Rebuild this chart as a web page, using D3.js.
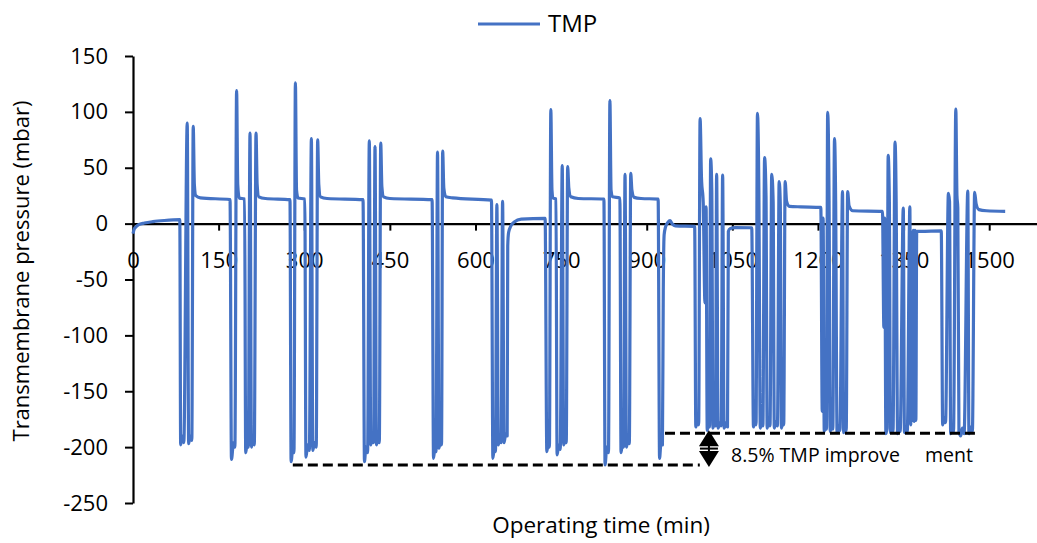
<!DOCTYPE html>
<html>
<head>
<meta charset="utf-8">
<script src="https://cdn.jsdelivr.net/npm/d3@7"></script>
<style>
  body { margin: 0; background: #fff; }
  svg { display: block; font-family: "Open Sans", "Noto Sans", sans-serif; }
</style>
</head>
<body>
<div id="chart"></div>
<script>
// TMP trace: [operating time (min), TMP (mbar)]
const tmpPoints = [
  [0,-9],[2,-5],[5,-3],[10,-1],[20,0.5],[35,1.8],[55,2.8],[82,3.5],
  [83.5,-198],[86,-190],[89,-196],[95,90],[97.5,-197],[100,-190],[103,-194],[105.5,87],[107.5,35],[110,25],[118,23],[170,21.5],
  [172.5,-211],[176,-196],[178.5,-200],[181.5,119],[183.5,35],[186,23],[195.5,22],[197.5,-205],[200,-196],[202,-200],[205,81],[207.5,-200],[210,-193],[212.5,-198],[215.5,81],[217.5,35],[220.5,24],[232,22.5],[275,21.5],
  [277,-213],[280,-200],[282,-205],[284.5,126],[286.5,30],[289,23],[301,22],[303,-209],[306,-198],[309,-203],[312.5,76],[315,-203],[318,-196],[321,-200],[323.5,75],[325.5,35],[328.5,24],[340,22.5],[403,21.5],
  [405.5,-213],[408,-200],[411,-205],[414,74],[416.5,-198],[419,-192],[421.5,-196],[424,69],[426.5,-198],[429,-192],[431.5,-196],[434,72],[436,33],[439,24],[450,22.5],[524,21.5],
  [526.5,-210],[529,-200],[531,-204],[533.5,64],[536,-201],[538.5,-194],[540.5,-198],[542.5,65],[544.5,32],[548,24],[560,23],[628,21],
  [630.5,-210],[633,-200],[635,-204],[637.5,17],[640,-198],[642.5,-192],[645,-196],[647.5,20],[650,-196],[653,-188],[655.5,-190],[656.5,-20],[658,-8],[662,-2],[668,1.5],[680,4],[722,4.7],
  [725,-204],[727.5,-196],[729.5,-200],[732,102],[734,30],[736,23],[741,22],[743,-207],[746,-198],[748.5,-202],[752,52],[754.5,-198],[757,-192],[759,-196],[761.5,51],[763.5,32],[767,24],[780,22.5],[825,22],
  [827,-216],[830,-200],[833,-205],[835.5,110],[837.5,30],[840,24],[853,23],[855,-205],[857.5,-196],[859.5,-200],[862,44],[864.5,-200],[867,-193],[869.5,-197],[872,45],[874,30],[878,23.5],[890,22.5],[920,22],
  [922.5,-210],[925,-196],[927.5,-198],[929,-60],[930.5,-10],[933,-3],[937,1],[941,2.6],[945,-0.5],[950,-2],[984,-2.5],
  [986,-182],[989,-176],[991,-180],[993.5,94],[996,40],[999,19],[1002,-71],[1004,15],[1006,-185],[1008.5,-178],[1010,-182],[1012,58],[1014,30],[1016,-183],[1018.5,-178],[1020.5,-181],[1022.5,44],[1025,-183],[1028,-178],[1030.5,-181],[1033,43.5],[1035.5,-183],[1039,-178],[1041.5,-182],[1043,-7],[1046,-4.5],[1055,-3.5],[1084,-3.7],
  [1087,-182],[1089.5,-176],[1091.5,-180],[1094,98.7],[1096.5,28],[1099,-183],[1101.5,-177],[1103.5,-181],[1106.5,59],[1109,25],[1111,-183],[1113.5,-177],[1116,-181],[1119,44],[1121.5,20],[1123.5,-183],[1126.5,-177],[1129,-181],[1132,37.5],[1134,18],[1136,-183],[1138.5,-177],[1140,-180],[1142.5,37.5],[1145,20],[1150,15.5],[1170,15],[1205,14.5],
  [1207.5,-168],[1209,5],[1211,-186],[1213.5,-180],[1215,-184],[1217,99.6],[1219.5,20],[1221.5,-186],[1224,-180],[1226,-184],[1229,76],[1231,20],[1233.5,-187],[1236,-181],[1238.5,-185],[1243,28.6],[1245,-187],[1247.5,-181],[1249.5,-185],[1252,28.6],[1254.5,16],[1261,11.5],[1313,11],
  [1315.5,-93],[1317,5],[1319,-188],[1321,-183],[1323,61],[1325,25],[1327,-187],[1329.5,-182],[1331.5,-186],[1335,73],[1337,20],[1339.5,-188],[1342,-182],[1344,-186],[1349.5,14],[1351.5,-187],[1354,-182],[1356.5,-186],[1361,15],[1362.5,-180],[1364,-8],[1365.5,-176],[1367,-6],[1368.5,-177],[1370,-6],[1371.5,-176],[1373,-7],[1380,-7],[1416,-6.5],
  [1418.5,-180],[1421,-174],[1423.5,-178],[1428.5,27],[1430.5,20],[1432.5,-188],[1435,-182],[1437.5,-186],[1441.5,102.5],[1443.5,25],[1445,14],[1447,-186],[1450,-190],[1453,-183],[1456,-188],[1462.5,29],[1464.5,-188],[1467.5,-182],[1470.5,-186],[1474.5,28],[1477,18],[1482,12.5],[1495,11.5],[1528,11]
];

const xTicks = [0, 150, 300, 450, 600, 750, 900, 1050, 1200, 1350, 1500];
const yTicks = [150, 100, 50, 0, -50, -100, -150, -200, -250];

// annotation: reference minima before / after, [from, to] in minutes
const beforeLevel = -216;
const afterLevel = -187.5;
const beforeSpan = [280, 993];
const afterSpan = [932, 1475];
const arrowTime = 1009;
const annotationText = ["8.5% TMP improve", "ment"];

const width = 1037, height = 543;
const svg = d3.select("#chart").append("svg")
  .attr("width", width)
  .attr("height", height);

const x = d3.scaleLinear().domain([0, 1600]).range([133, 133 + 0.5708 * 1600]);
const y = d3.scaleLinear().domain([-250, 150]).range([503, 56]);

// x axis sits on the zero line
const xAxis = svg.append("g")
  .attr("transform", `translate(0,${y(0)})`)
  .call(d3.axisBottom(x).tickValues(xTicks).tickSizeInner(7).tickSizeOuter(0).tickPadding(22)
    .tickFormat(d => String(d)));
xAxis.select(".domain").attr("stroke", "#000").attr("stroke-width", 2.2);
xAxis.selectAll(".tick line").attr("stroke", "#000").attr("stroke-width", 2);
xAxis.selectAll(".tick text").attr("font-size", 22).attr("fill", "#000")
  .attr("font-family", "'Open Sans', sans-serif");

const yAxis = svg.append("g")
  .attr("transform", `translate(${x(0)},0)`)
  .call(d3.axisLeft(y).tickValues(yTicks).tickSizeInner(8).tickSizeOuter(0).tickPadding(17)
    .tickFormat(d => String(d)));
yAxis.select(".domain").attr("stroke", "#000").attr("stroke-width", 2.2);
yAxis.selectAll(".tick line").attr("stroke", "#000").attr("stroke-width", 2);
yAxis.selectAll(".tick text").attr("font-size", 22).attr("fill", "#000")
  .attr("font-family", "'Open Sans', sans-serif");

// TMP line
const line = d3.line()
  .x(d => x(d[0]))
  .y(d => y(d[1]))
  .curve(d3.curveMonotoneX);

svg.append("path")
  .datum(tmpPoints)
  .attr("fill", "none")
  .attr("stroke", "#4472c4")
  .attr("stroke-width", 3.2)
  .attr("stroke-linejoin", "round")
  .attr("d", line);

// dashed reference lines
[[beforeSpan, beforeLevel], [afterSpan, afterLevel]].forEach(([span, level]) => {
  svg.append("line")
    .attr("x1", x(span[0])).attr("x2", x(span[1]))
    .attr("y1", y(level)).attr("y2", y(level))
    .attr("stroke", "#000")
    .attr("stroke-width", 3)
    .attr("stroke-dasharray", "10,5");
});

// double arrow between the two levels
const ax = x(arrowTime);
const yTop = y(afterLevel) - 3, yBot = y(beforeLevel) + 2;
const yMid = (yTop + yBot) / 2;
svg.append("line")
  .attr("x1", ax).attr("x2", ax).attr("y1", yTop + 4).attr("y2", yBot - 4)
  .attr("stroke", "#000").attr("stroke-width", 2);
svg.append("line")
  .attr("x1", ax - 9).attr("x2", ax + 9).attr("y1", yMid).attr("y2", yMid)
  .attr("stroke", "#000").attr("stroke-width", 2);
svg.append("path")
  .attr("d", `M${ax},${yTop} L${ax - 10},${yTop + 16} L${ax + 10},${yTop + 16} Z`)
  .attr("fill", "#000");
svg.append("path")
  .attr("d", `M${ax},${yBot} L${ax - 10},${yBot - 16} L${ax + 10},${yBot - 16} Z`)
  .attr("fill", "#000");

svg.append("text")
  .attr("x", 731).attr("y", 462)
  .attr("font-size", 19.5)
  .text(annotationText[0]);
svg.append("text")
  .attr("x", 925).attr("y", 462)
  .attr("font-size", 19.5)
  .text(annotationText[1]);

// legend
svg.append("line")
  .attr("x1", 478).attr("x2", 540).attr("y1", 24).attr("y2", 24)
  .attr("stroke", "#4472c4").attr("stroke-width", 3);
svg.append("text")
  .attr("x", 548).attr("y", 32)
  .attr("font-size", 24)
  .text("TMP");

// axis titles
svg.append("text")
  .attr("x", 601).attr("y", 533)
  .attr("text-anchor", "middle")
  .attr("font-size", 22.5)
  .text("Operating time (min)");

svg.append("text")
  .attr("transform", `translate(29,271) rotate(-90)`)
  .attr("text-anchor", "middle")
  .attr("font-size", 22)
  .text("Transmembrane pressure (mbar)");
</script>
</body>
</html>
